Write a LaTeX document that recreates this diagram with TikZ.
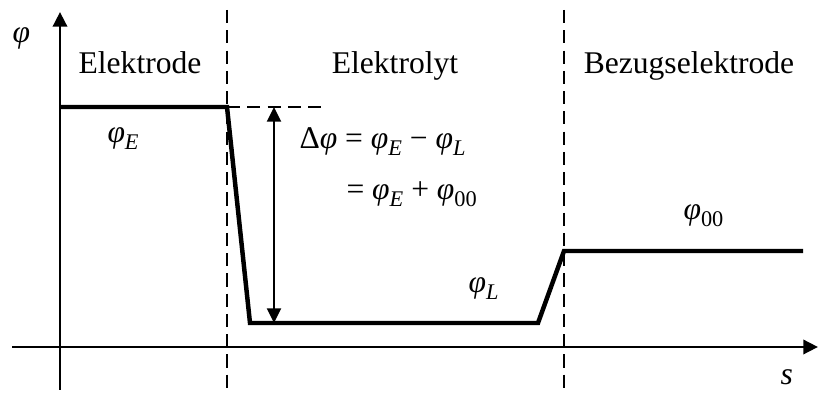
\documentclass[tikz,border=0pt]{standalone}
\usepackage{fontspec}
\setmainfont{Liberation Serif}
\usepackage{tikz}
\usetikzlibrary{
  arrows.meta,
  positioning,
  calc
}
\newcommand{\ph}{\textit{φ}}
\newcommand{\sub}[1]{\raisebox{-0.45ex}{\fontsize{8.5}{9}\selectfont #1}}
\tikzset{
  axisline/.style={line width=1.1pt,-{Triangle[length=5.6pt,width=5.4pt]}},
  border/.style={line width=0.7pt,dash pattern=on 5pt off 2.7pt},
  curve/.style={line width=1.7pt,line join=miter},
  diffarrow/.style={line width=0.7pt,{Triangle[length=5.6pt,width=5.4pt]}-{Triangle[length=5.6pt,width=5.4pt]}},
  lbl/.style={anchor=base,font=\fontsize{12}{14}\selectfont,inner sep=0pt},
  sym/.style={anchor=base west,font=\fontsize{12}{14}\selectfont,inner sep=0pt}
}

\begin{document}
\begin{tikzpicture}[x=0.38pt,y=0.38pt]
  \useasboundingbox (0,0) rectangle (818,394);

  % axes
  \coordinate (yfoot) at (60,4);
  \coordinate (ytop) at (60,382);
  \coordinate (xleft) at (12,47);
  \coordinate (xright) at (818,47);
  \draw[axisline] (yfoot) -- (ytop);
  \draw[axisline] (xleft) -- (xright);

  % phase borders
  \coordinate (b1top) at (227,384);
  \coordinate (b1bot) at (227,0);
  \coordinate (b2top) at (564,384);
  \coordinate (b2bot) at (564,0);
  \draw[border] (b1top) -- (b1bot);
  \draw[border] (b2top) -- (b2bot);

  % potential curve
  \coordinate (pE0) at (60,287);
  \coordinate (pE1) at (227,287);
  \coordinate (pL0) at (250,71);
  \coordinate (pL1) at (538,71);
  \coordinate (pR0) at (564,143);
  \coordinate (pR1) at (803,143);
  \draw[curve] (pE0) -- (pE1) -- (pL0) -- (pL1) -- (pR0) -- (pR1);

  % level of phi_E and potential difference
  \coordinate (hlend) at (325,287);
  \draw[border] (pE1) -- (hlend);
  \coordinate (dtop) at (274,287);
  \coordinate (dbot) at (274,71);
  \draw[diffarrow] (dtop) -- (dbot);

  % labels
  \node[sym] (phiaxis) at (12,351) {\ph};
  \node[sym] (saxis) at (780,9) {\textit{s}};
  \node[lbl] (lelektrode) at (140,320) {Elektrode};
  \node[lbl] (lelektrolyt) at (395,320) {Elektrolyt};
  \node[lbl] (lbezug) at (689,320) {Bezugselektrode};
  \node[sym] (phiE) at (107,251) {\ph\sub{\textit{E}}};
  \node[sym] (phiL) at (468,101) {\ph\sub{\textit{L}}};
  \node[sym] (phi00) at (683,174) {\ph\sub{00}};
  \node[sym] (eqone) at (299,245) {Δ\ph\ = \ph\sub{\textit{E}} − \ph\sub{\textit{L}}};
  \node[sym] (eqtwo) at (346,194) {= \ph\sub{\textit{E}} + \ph\sub{00}};
\end{tikzpicture}
\end{document}
